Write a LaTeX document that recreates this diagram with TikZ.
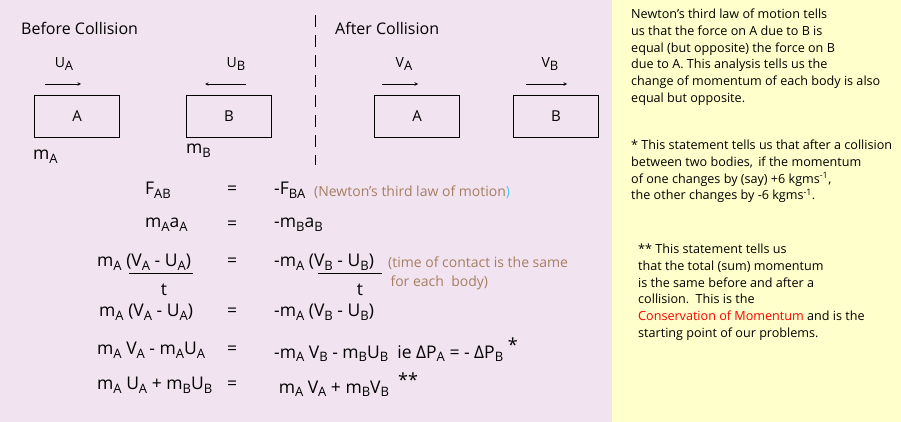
\documentclass[tikz,border=0pt]{standalone}
\usepackage{fontspec}
\setmainfont{Open Sans}
\usetikzlibrary{positioning}
\definecolor{panelpink}{HTML}{F2E3F0}
\definecolor{panelyellow}{HTML}{FFFFCC}
\definecolor{notebrown}{HTML}{A57F63}
\newcommand{\lo}[1]{\raisebox{-.4ex}{\fontsize{13}{13}\selectfont #1}}
\newcommand{\hi}[1]{\raisebox{.7ex}{\fontsize{10}{10}\selectfont #1}}
\tikzset{x=1pt, y=-1pt,
        ball/.style={draw, minimum width=85pt, minimum height=42pt, font=\fontsize{15}{18}\selectfont},
        vel/.style={->, >=stealth, semithick},
        lbl/.style={font=\fontsize{16}{19}\selectfont},
        eqn/.style={font=\fontsize{17.5}{21}\selectfont, inner sep=0pt},
        note/.style={font=\fontsize{12.6}{16.7}\selectfont, align=left, anchor=north west, inner sep=0pt}
        }
\begin{document}
\begin{tikzpicture}
    \fill[panelpink] (0,0) rectangle (612,422);
    \fill[panelyellow] (612,0) rectangle (901,422);
    \useasboundingbox (0,0) rectangle (901,422);

    % headings and divider
    \node[lbl, anchor=west, inner sep=0pt] (before) at (21,28) {Before Collision};
    \node[lbl, anchor=west, inner sep=0pt] (after) at (335,28) {After Collision};
    \coordinate (divtop) at (315,15);
    \coordinate (divbot) at (315,165);
    \draw[dash pattern=on 12pt off 8pt] (divtop) -- (divbot);

    % bodies
    \node[ball] (a1) at (77,116) {A};
    \node[ball] (b1) at (229,116) {B};
    \node[ball] (a2) at (417,116) {A};
    \node[ball] (b2) at (556,116) {B};
    \node[eqn, anchor=west] (ma) at (33,157) {m\lo{A}};
    \node[eqn, anchor=west] (mb) at (186,151) {m\lo{B}};

    % velocities
    \coordinate (ua0) at (45,84);  \coordinate (ua1) at (81,84);
    \coordinate (ub0) at (246,84); \coordinate (ub1) at (205,84);
    \coordinate (va0) at (382,84); \coordinate (va1) at (418,84);
    \coordinate (vb0) at (526,84); \coordinate (vb1) at (567,84);
    \draw[vel] (ua0) -- (ua1);
    \draw[vel] (ub0) -- (ub1);
    \draw[vel] (va0) -- (va1);
    \draw[vel] (vb0) -- (vb1);
    \node[font=\fontsize{14}{16}\selectfont] (ual) at (64,64) {U\lo{A}};
    \node[font=\fontsize{14}{16}\selectfont] (ubl) at (236,64) {U\lo{B}};
    \node[font=\fontsize{14}{16}\selectfont] (val) at (404,64) {V\lo{A}};
    \node[font=\fontsize{14}{16}\selectfont] (vbl) at (550,64) {V\lo{B}};

    % equations
    \foreach \x/\y/\l/\r in {145/190/F\lo{AB}/-F\lo{BA},
                          145/225/m\lo{A}a\lo{A}/-m\lo{B}a\lo{B},
                          97/262/m\lo{A} (V\lo{A} - U\lo{A})/-m\lo{A} (V\lo{B} - U\lo{B}),
                          99/312/m\lo{A} (V\lo{A} - U\lo{A})/-m\lo{A} (V\lo{B} - U\lo{B}),
                          97/350/m\lo{A} V\lo{A} - m\lo{A}U\lo{A}/-m\lo{A} V\lo{B} - m\lo{B}U\lo{B}\ \ ie ΔP\lo{A} = - ΔP\lo{B} \hi{\fontsize{18}{18}\selectfont *},
                          97/385/m\lo{A} U\lo{A} + m\lo{B}U\lo{B}/\ m\lo{A} V\lo{A} + m\lo{B}V\lo{B} \ \hi{\fontsize{18}{18}\selectfont **}} {
        \node[eqn, anchor=west] at (\x,\y) {\l};
        \node[eqn] at (232,\y) {=};
        \node[eqn, anchor=west] at (274,\y) {\r};
    }
    \node[eqn, anchor=west, text=notebrown, font=\fontsize{14}{16}\selectfont] (note1) at (314,192) {(Newton’s third law of motion\textcolor{cyan!70}{)}};
    \node[eqn, anchor=north west, text=notebrown, align=left, font=\fontsize{14}{19}\selectfont] (note2) at (388,257) {(time of contact is the same\\ \,for each\ \ body)};

    % fraction bars
    \coordinate (fl0) at (129,273); \coordinate (fl1) at (193,273);
    \coordinate (fr0) at (318,273); \coordinate (fr1) at (382,273);
    \draw (fl0) -- (fl1);
    \draw (fr0) -- (fr1);
    \node[eqn] (tl) at (164,290) {t};
    \node[eqn] (tr) at (360,290) {t};

    % side notes
    \node[note] (side1) at (631,9) {Newton’s third law of motion tells\\us that the force on A due to B is\\equal (but opposite) the force on B\\due to A. This analysis tells us the\\change of momentum of each body is also\\equal but opposite.};
    \node[note] (side2) at (631,140) {* This statement tells us that after a collision\\between two bodies,\, if the momentum\\of one changes by (say) +6 kgms\textsuperscript{-1},\\the other changes by -6 kgms\textsuperscript{-1}.};
    \node[note] (side3) at (638,244) {** This statement tells us\\that the total (sum) momentum\\is the same before and after a\\collision.\, This is the\\\textcolor{red}{Conservation of Momentum} and is the\\starting point of our problems.};
\end{tikzpicture}
\end{document}
